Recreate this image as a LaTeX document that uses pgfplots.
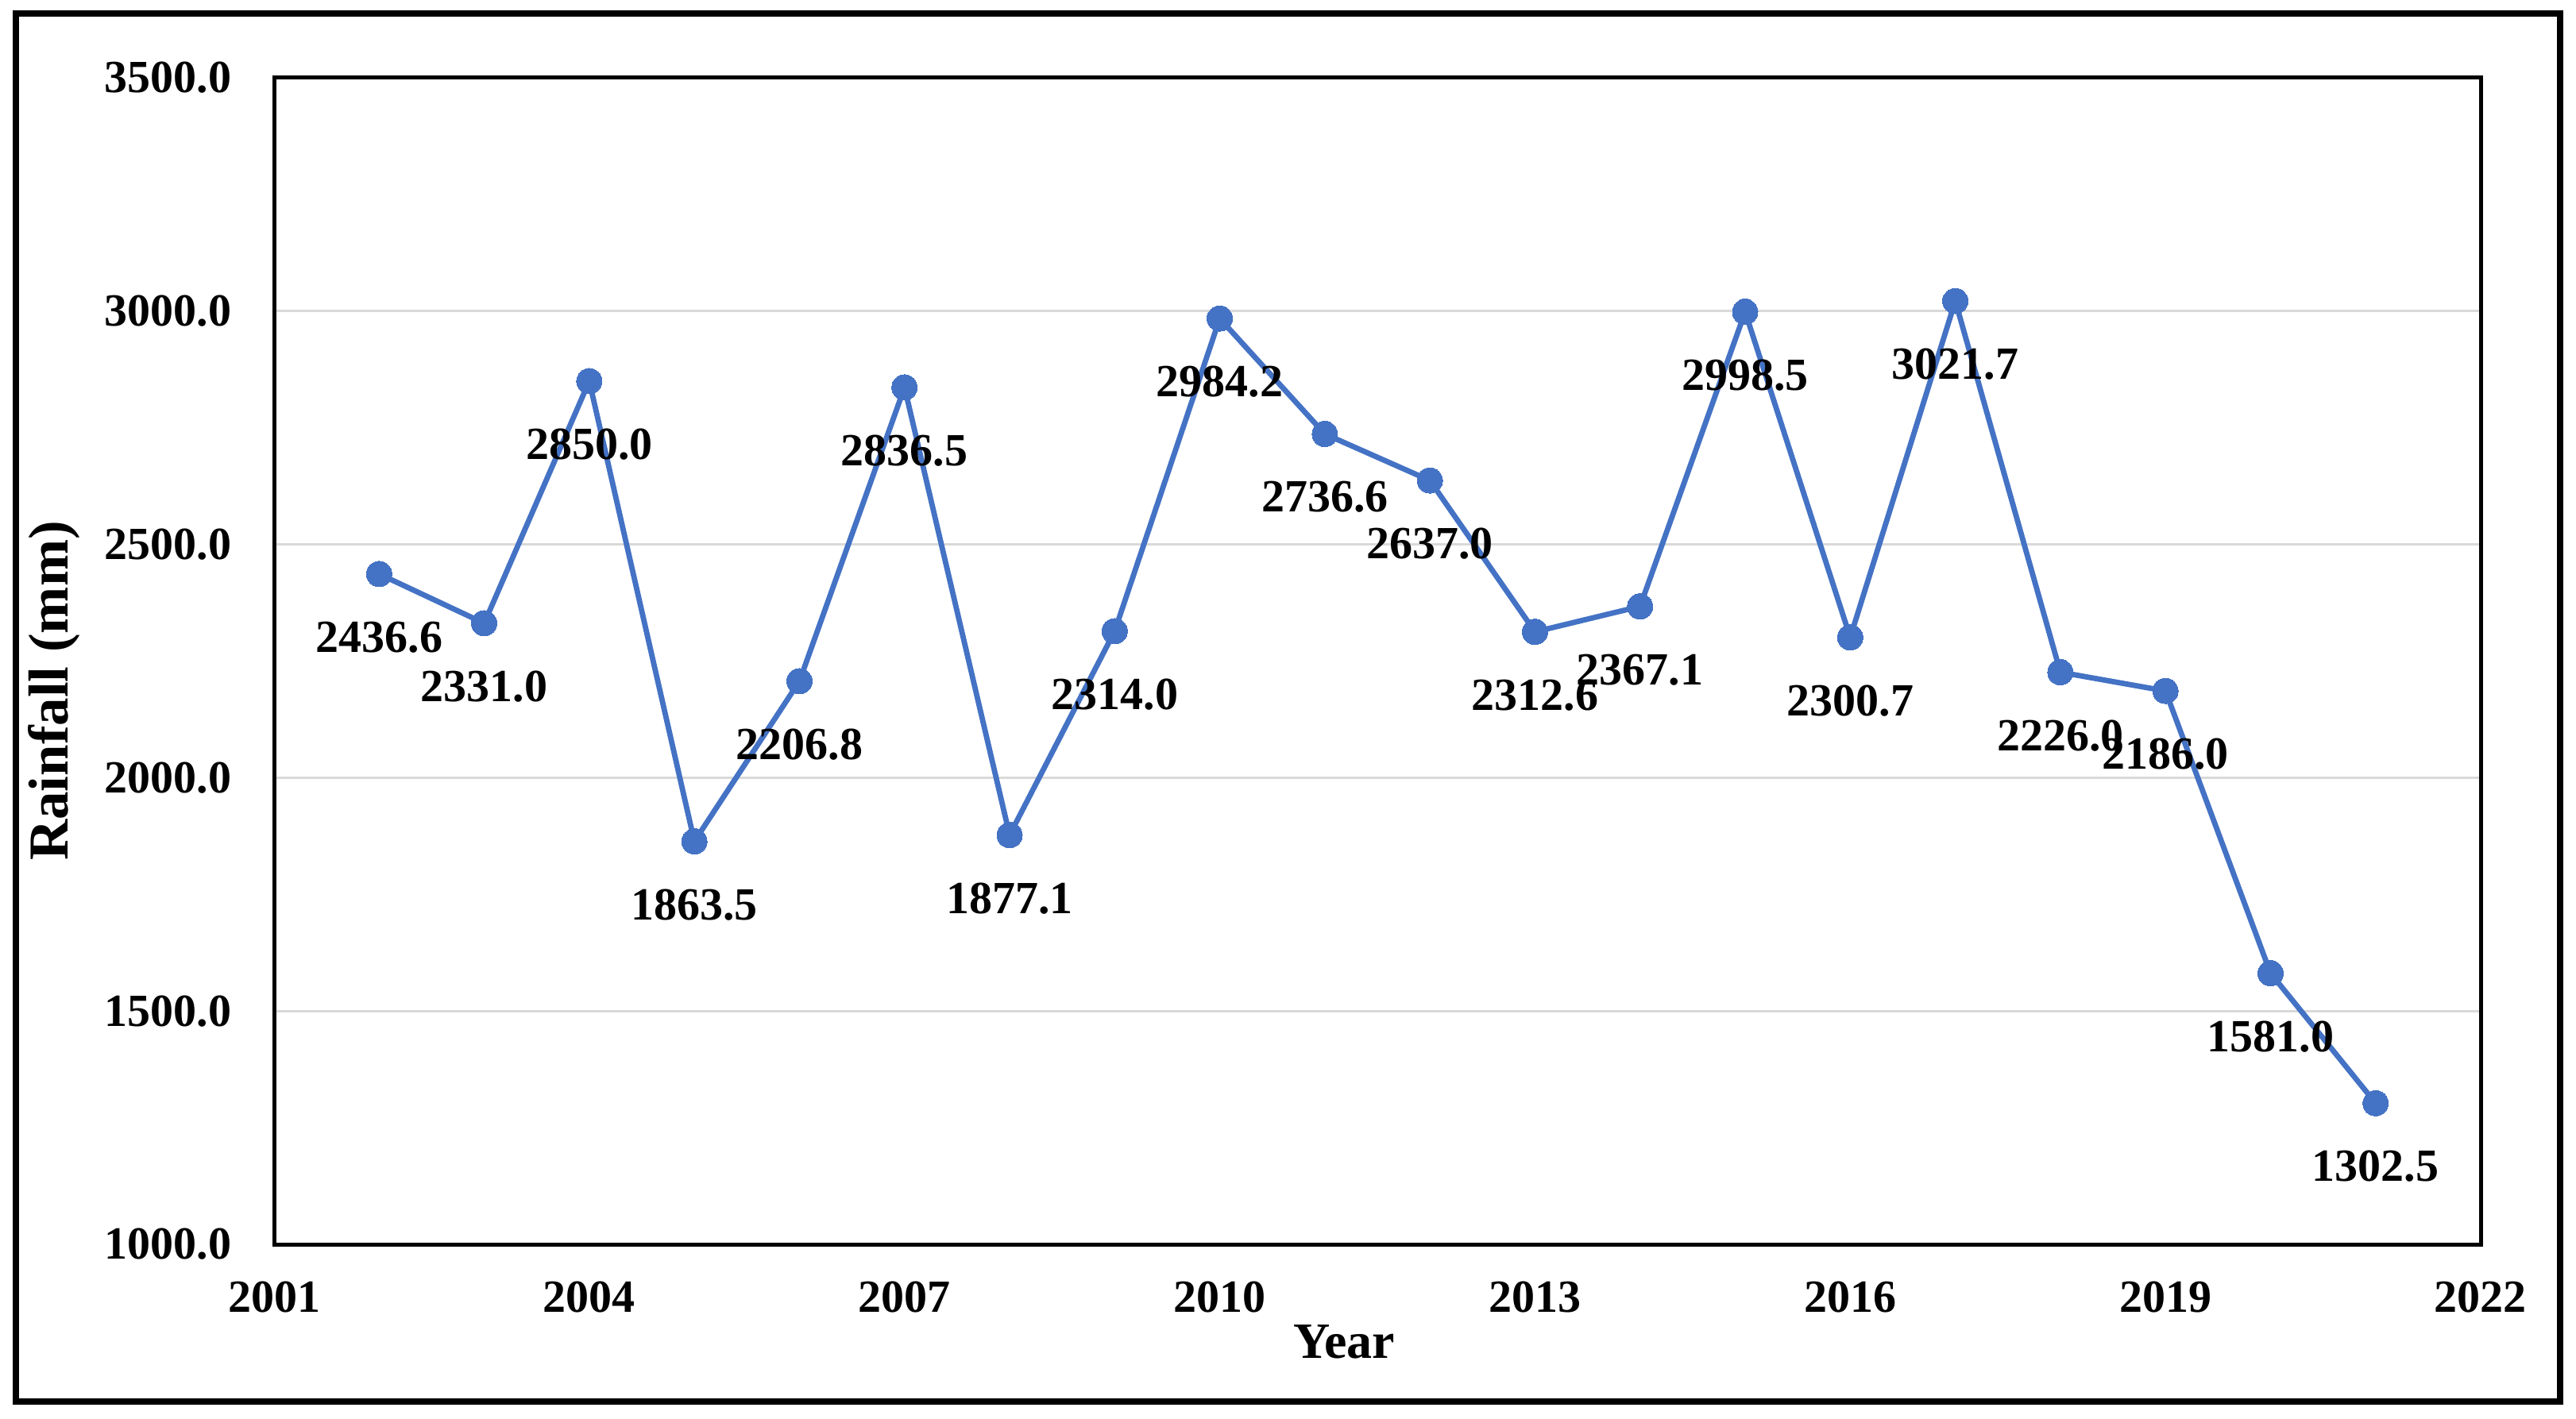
\documentclass[border=0pt]{standalone}
\usepackage{pgfplots}
\pgfplotsset{compat=1.18}
\usepackage{fontspec}
\setmainfont{Liberation Serif}
\definecolor{xlblue}{HTML}{4472C4}
\definecolor{gridgray}{HTML}{D9D9D9}
\begin{document}
\begin{tikzpicture}
\useasboundingbox (-86.25pt,-55pt) rectangle (724.5pt,391.75pt);
\draw[line width=2pt, black] (-81.25pt,-49.5pt) rectangle (719.5pt,387.5pt);
\begin{axis}[
  at={(0pt,0pt)}, anchor=south west,
  scale only axis, width=694.5pt, height=367.25pt,
  xmin=2001, xmax=2022, ymin=1000, ymax=3500,
  xtick={2001,2004,...,2022}, ytick={1000,1500,...,3500},
  ymajorgrids, grid style={gridgray, line width=0.75pt},
  axis line style={black, line width=1.25pt},
  major tick length=0pt,
  /pgf/number format/assume math mode=true,
  /pgf/number format/1000 sep={},
  tick label style={font=\fontsize{14.5}{14.5}\selectfont\bfseries, inner sep=0pt},
  xticklabel style={yshift=-11.5pt},
  yticklabel style={xshift=-13.25pt, /pgf/number format/fixed, /pgf/number format/fixed zerofill, /pgf/number format/precision=1},
  clip=false,
]
\addplot[xlblue, line width=1.7pt, mark=*, mark size=4pt,
  mark options={fill=xlblue, draw=xlblue, line width=0pt},
  nodes near coords, nodes near coords align={below},
  every node near coord/.append style={font=\fontsize{14.5}{14.5}\selectfont\bfseries, inner sep=0pt, yshift=-15pt, text=black,
    /pgf/number format/fixed, /pgf/number format/fixed zerofill, /pgf/number format/precision=1,
    /pgf/number format/1000 sep={}, /pgf/number format/assume math mode=true}]
coordinates {
(2002,2436.6) (2003,2331.0) (2004,2850.0) (2005,1863.5) (2006,2206.8)
(2007,2836.5) (2008,1877.1) (2009,2314.0) (2010,2984.2) (2011,2736.6)
(2012,2637.0) (2013,2312.6) (2014,2367.1) (2015,2998.5) (2016,2300.7)
(2017,3021.7) (2018,2226.0) (2019,2186.0) (2020,1581.0) (2021,1302.5)
};
\end{axis}
\node[font=\fontsize{16}{16}\selectfont\bfseries, inner sep=0pt] at (336.75pt,-30.75pt) {Year};
\node[font=\fontsize{17.75}{17.75}\selectfont\bfseries, inner sep=0pt, rotate=90] at (-69.25pt,174.25pt) {Rainfall (mm)};
\end{tikzpicture}
\end{document}
